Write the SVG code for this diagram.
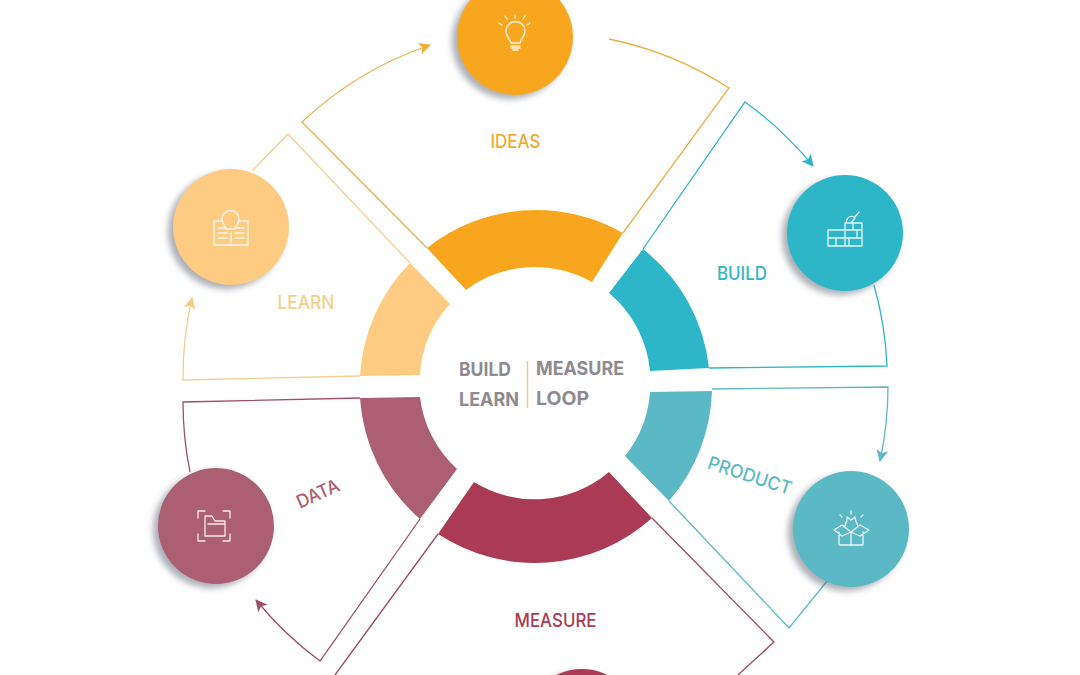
<svg xmlns="http://www.w3.org/2000/svg" width="1080" height="675" viewBox="0 0 1080 675">
<style>
text{font-family:"Inter","Liberation Sans",sans-serif;font-size:18.500px;font-weight:500}
.k{font-weight:700;font-size:19px}
.c{fill:none;stroke-width:1.3;stroke-linejoin:miter}
.i{fill:none;stroke:#fff;stroke-width:1.300;stroke-linecap:round;stroke-linejoin:round;opacity:.88}
.s{fill:#5a6270;opacity:.5;filter:url(#b)}
.o{stroke:#E9B04A}.t{stroke:#2FB3C6}.p{stroke:#5CB8C6}.m{stroke:#9A4A60}.d{stroke:#9E5066}.l{stroke:#F3CF8E}
</style>
<defs>
<filter id="b" x="-20%" y="-20%" width="140%" height="140%"><feGaussianBlur stdDeviation="3"/></filter>
<marker id="ao" markerWidth="14" markerHeight="14" refX="11" refY="6" orient="auto" markerUnits="userSpaceOnUse"><path d="M0 0L12 6L0 12L3 6Z" fill="#F2AE33"/></marker>
<marker id="at" markerWidth="14" markerHeight="14" refX="11" refY="6" orient="auto" markerUnits="userSpaceOnUse"><path d="M0 0L12 6L0 12L3 6Z" fill="#2FB3C6"/></marker>
<marker id="ap" markerWidth="14" markerHeight="14" refX="11" refY="6" orient="auto" markerUnits="userSpaceOnUse"><path d="M0 0L12 6L0 12L3 6Z" fill="#5CB8C6"/></marker>
<marker id="ad" markerWidth="14" markerHeight="14" refX="11" refY="6" orient="auto" markerUnits="userSpaceOnUse"><path d="M0 0L12 6L0 12L3 6Z" fill="#9E5066"/></marker>
<marker id="al" markerWidth="14" markerHeight="14" refX="11" refY="6" orient="auto" markerUnits="userSpaceOnUse"><path d="M0 0L12 6L0 12L3 6Z" fill="#F9CB80"/></marker>
</defs>
<rect width="1080" height="675" fill="#fff"/>
<g id="connectors">
<path class="c o" d="M427 248L302 122A352 352 0 0 1 430 45" marker-end="url(#ao)"/>
<path class="c o" d="M609 39A352 352 0 0 1 729 88L623 233"/>
<path class="c t" d="M643 249L745 102A352 352 0 0 1 813 166" marker-end="url(#at)"/>
<path class="c t" d="M874 285A352 352 0 0 1 887 366L709 368"/>
<path class="c p" d="M712 389L888 387A352 352 0 0 1 880 461" marker-end="url(#ap)"/>
<path class="c p" d="M669 501L789 628L832 575"/>
<path class="c m" d="M652 518L774 642L738 675"/>
<path class="c m" d="M438 534L335 675"/>
<path class="c d" d="M360 398L183 402A352 352 0 0 0 190 472"/>
<path class="c d" d="M420 519L320 661A352 352 0 0 1 256 600" marker-end="url(#ad)"/>
<path class="c l" d="M252 171L288 134L410 263"/>
<path class="c l" d="M360 376L183 380A352 352 0 0 1 192 298" marker-end="url(#al)"/>
</g>
<g id="ring">
<path fill="#F9A61F" d="M427 248A175.500 175.500 0 0 1 623 233L592 282A115 115 0 0 0 466 290Z"/>
<path fill="#2DB6C8" d="M643 249A175.500 175.500 0 0 1 709 368L650 371A115 115 0 0 0 609 293Z"/>
<path fill="#5BB9C6" d="M712 391A175.500 175.500 0 0 1 669 501L625 456A115 115 0 0 0 650 392Z"/>
<path fill="#AB3A55" d="M652 518A175.500 175.500 0 0 1 438 534L474 482A115 115 0 0 0 609 472Z"/>
<path fill="#AC5E72" d="M360 398A175.500 175.500 0 0 0 420 519L457 469A115 115 0 0 1 420 397Z"/>
<path fill="#FDCB82" d="M360 376A175.500 175.500 0 0 1 410 263L450 304A115 115 0 0 0 420 375Z"/>
</g>
<g id="center">
<text class="k" x="459" y="376" fill="#8E8A90" textLength="52" lengthAdjust="spacingAndGlyphs">BUILD</text>
<text class="k" x="459" y="406" fill="#8E8A90" textLength="60" lengthAdjust="spacingAndGlyphs">LEARN</text>
<text class="k" x="536" y="375" fill="#8E8A90" textLength="88" lengthAdjust="spacingAndGlyphs">MEASURE</text>
<text class="k" x="536" y="405" fill="#8E8A90" textLength="53" lengthAdjust="spacingAndGlyphs">LOOP</text>
<line x1="527.500" y1="361" x2="527.500" y2="408" stroke="#EFC98A" stroke-width="1.500"/>
</g>
<g id="ideas">
<circle class="s" cx="510" cy="41" r="58"/><circle cx="515" cy="37" r="58" fill="#F9A61F"/>
<path class="i" d="M511 43C510 38 506 37 506 31A9.500 9.500 0 0 1 525 31C525 37 521 38 520 43ZM511 46H520M511 48H520M513 50H518M502 25L499 23M507 19L505 16M515 18V15M523 19L525 16M527 25L530 23"/>
<text x="515.500" y="148" text-anchor="middle" fill="#EFAA34" textLength="50" lengthAdjust="spacingAndGlyphs">IDEAS</text>
</g>
<g id="learn">
<circle class="s" cx="226" cy="231" r="58"/><circle cx="231" cy="227" r="58" fill="#FDCB82"/>
<path class="i" d="M226 229C225 225 222 224 222 219A8.500 8.500 0 0 1 239 219C239 224 236 225 235 229ZM221 221H214V245H248V221H240M231 233V243M218 228H225M237 228H244M218 233H227M235 233H244M218 238H227M235 238H244"/>
<text x="306" y="309" text-anchor="middle" fill="#F3CF8E" textLength="57" lengthAdjust="spacingAndGlyphs">LEARN</text>
</g>
<g id="build">
<circle class="s" cx="840" cy="237" r="58"/><circle cx="845" cy="233" r="58" fill="#2DB6C8"/>
<path class="i" d="M828 230H845V246H828ZM845 223H862V246H845ZM828 238H862M845 230H862M836 238V246M853 223V230M857 230V238M849 238V246M846 223C847 216 852 215 855 218L851 223M855 217L859 212"/>
<text x="742" y="280" text-anchor="middle" fill="#2DB6C8" textLength="50" lengthAdjust="spacingAndGlyphs">BUILD</text>
</g>
<g id="product">
<circle class="s" cx="846" cy="533" r="58"/><circle cx="851" cy="529" r="58" fill="#5BB9C6"/>
<path class="i" d="M839 532V545H863V532M851 532V545M851 532L842 525L834 530L842 536ZM851 532L860 525L869 530L860 536ZM845 526C846 521 848 520 847 517L851 520L855 517C855 520 856 522 858 526M851 514V511M842 517L840 515M861 517L863 515"/>
<text x="750" y="482" text-anchor="middle" fill="#5BB9C6" textLength="87" lengthAdjust="spacingAndGlyphs" transform="rotate(18 750 475)">PRODUCT</text>
</g>
<g id="measure">
<circle class="s" cx="577" cy="731" r="58"/><circle cx="582" cy="727" r="58" fill="#AB3A55"/>
<text x="555.500" y="627" text-anchor="middle" fill="#AB3A55" textLength="82" lengthAdjust="spacingAndGlyphs">MEASURE</text>
</g>
<g id="data">
<circle class="s" cx="211" cy="530" r="58"/><circle cx="216" cy="526" r="58" fill="#AC5E72"/>
<path class="i" d="M198 518V511H205M223 511H230V518M198 534V541H205M223 541H230V534M205 536V516H212L215 521H225V536ZM208 524H225"/>
<text x="318" y="500" text-anchor="middle" fill="#AC5E72" textLength="45" lengthAdjust="spacingAndGlyphs" transform="rotate(-24 318 494)">DATA</text>
</g>
</svg>
